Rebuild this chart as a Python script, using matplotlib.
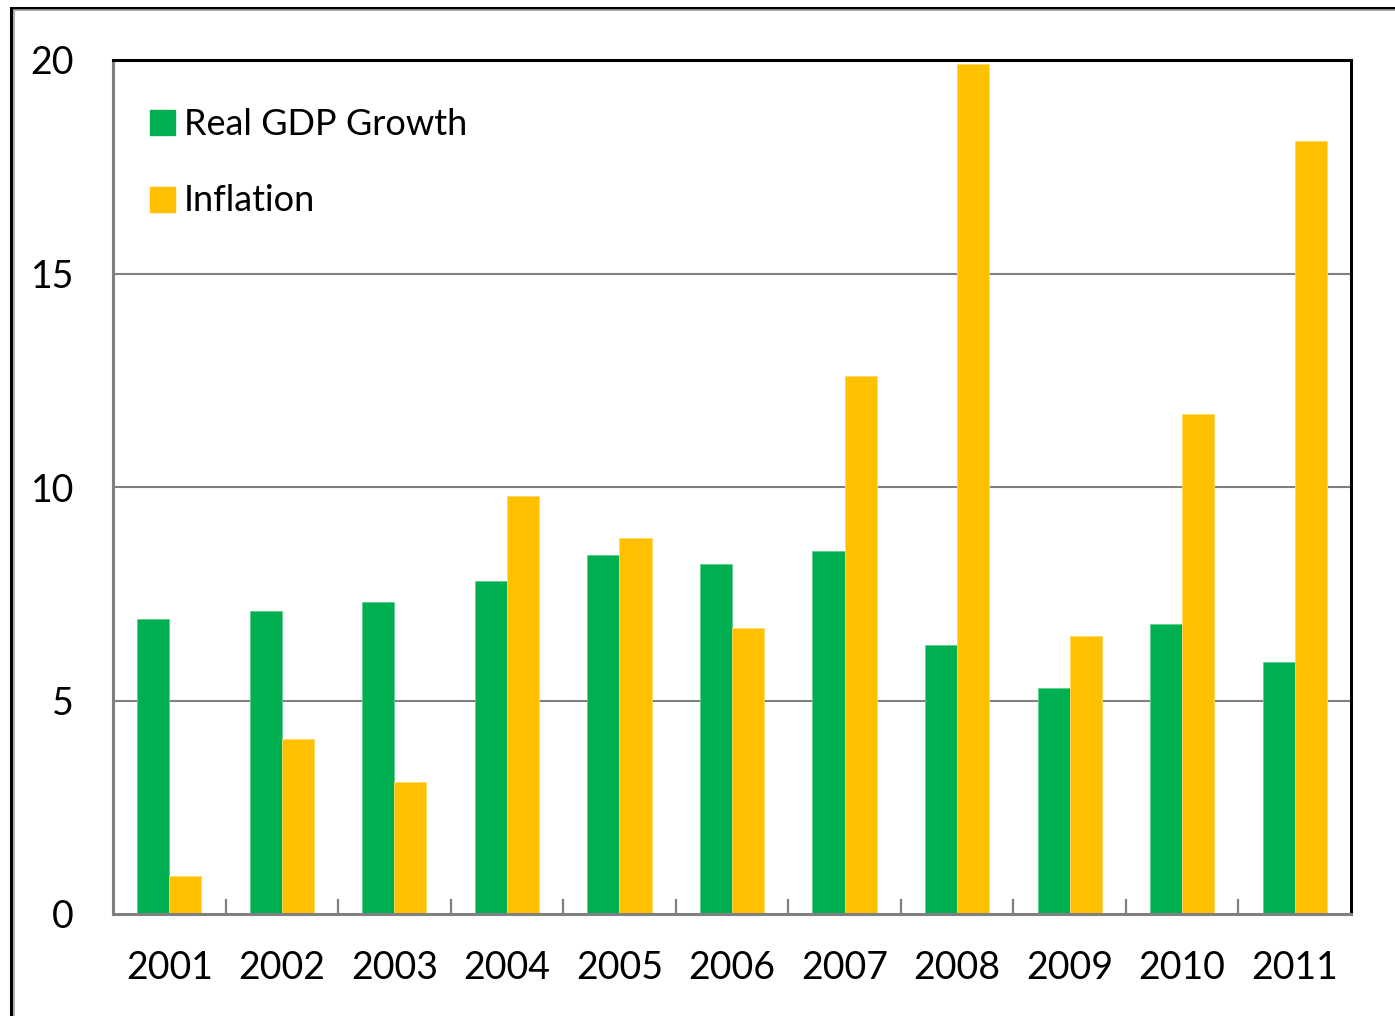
import matplotlib
matplotlib.use("Agg")
import matplotlib.pyplot as plt
from matplotlib.patches import Rectangle
from matplotlib.lines import Line2D
import numpy as np

years = ["2001", "2002", "2003", "2004", "2005", "2006",
         "2007", "2008", "2009", "2010", "2011"]
gdp_growth = [6.9, 7.1, 7.3, 7.8, 8.4, 8.2, 8.5, 6.3, 5.3, 6.8, 5.9]
inflation = [0.9, 4.1, 3.1, 9.8, 8.8, 6.7, 12.6, 19.9, 6.5, 11.7, 18.1]
y_ticks = [0, 5, 10, 15, 20]

GREEN = "#00B050"
GOLD = "#FFC000"

plt.rcParams["font.family"] = ["Lato", "DejaVu Sans"]

W, H = 1395, 1016
fig = plt.figure(figsize=(W / 100, H / 100), dpi=100)

# outer frame (double line: black outside, grey inside)
fig.patches.append(Rectangle((11 / W, -0.1), 1.2, 1 - 7.5 / H + 0.1,
                             transform=fig.transFigure, fill=False,
                             edgecolor="black", linewidth=2.2))
fig.patches.append(Rectangle((14 / W, -0.1), 1.2, 1 - 10 / H + 0.1,
                             transform=fig.transFigure, fill=False,
                             edgecolor="#a0a0a0", linewidth=1.2))

left, right, top, bottom = 113, 1351, 60, 914
ax = fig.add_axes([left / W, 1 - bottom / H, (right - left) / W, (bottom - top) / H])

x = np.arange(len(years))
bw = 0.285
ax.bar(x - bw / 2, gdp_growth, bw, color=GREEN, edgecolor="#5fd08f",
       linewidth=0.6, zorder=3)
ax.bar(x + bw / 2, inflation, bw, color=GOLD, edgecolor="#ffd866",
       linewidth=0.6, zorder=3)

ax.set_xlim(-0.5, len(years) - 0.5)
ax.set_ylim(0, 20)
ax.set_yticks(y_ticks)
ax.set_yticklabels([str(t) for t in y_ticks], fontsize=27)
ax.tick_params(axis="y", length=0, pad=28)
ax.set_xticks(x)
ax.set_xticklabels(years, fontsize=27)
ax.tick_params(axis="x", length=0, pad=26)

# category separators on the x axis
for b in np.arange(0.5, len(years) - 0.5, 1.0):
    ax.plot([b, b], [0, 0.33], color="#808080", linewidth=1.6,
            zorder=4, clip_on=False)

for yv in y_ticks[1:-1]:
    ax.axhline(yv, color="#808080", linewidth=1.5, zorder=1)

ax.spines["left"].set_color("#808080")
ax.spines["bottom"].set_color("#808080")
ax.spines["top"].set_color("black")
ax.spines["right"].set_color("black")
for s in ax.spines.values():
    s.set_linewidth(2.2)
    s.set_zorder(5)

handles = [Line2D([], [], marker="s", linestyle="none", markersize=18,
                  markerfacecolor=GREEN, markeredgecolor=GREEN),
           Line2D([], [], marker="s", linestyle="none", markersize=18,
                  markerfacecolor=GOLD, markeredgecolor=GOLD)]
ax.legend(handles, ["Real GDP Growth", "Inflation"], loc="upper left",
          bbox_to_anchor=(-0.007, 0.982), frameon=False, fontsize=26,
          handletextpad=-0.1, labelspacing=1.2, handlelength=1.4)

fig.savefig("out.png", dpi=100)
